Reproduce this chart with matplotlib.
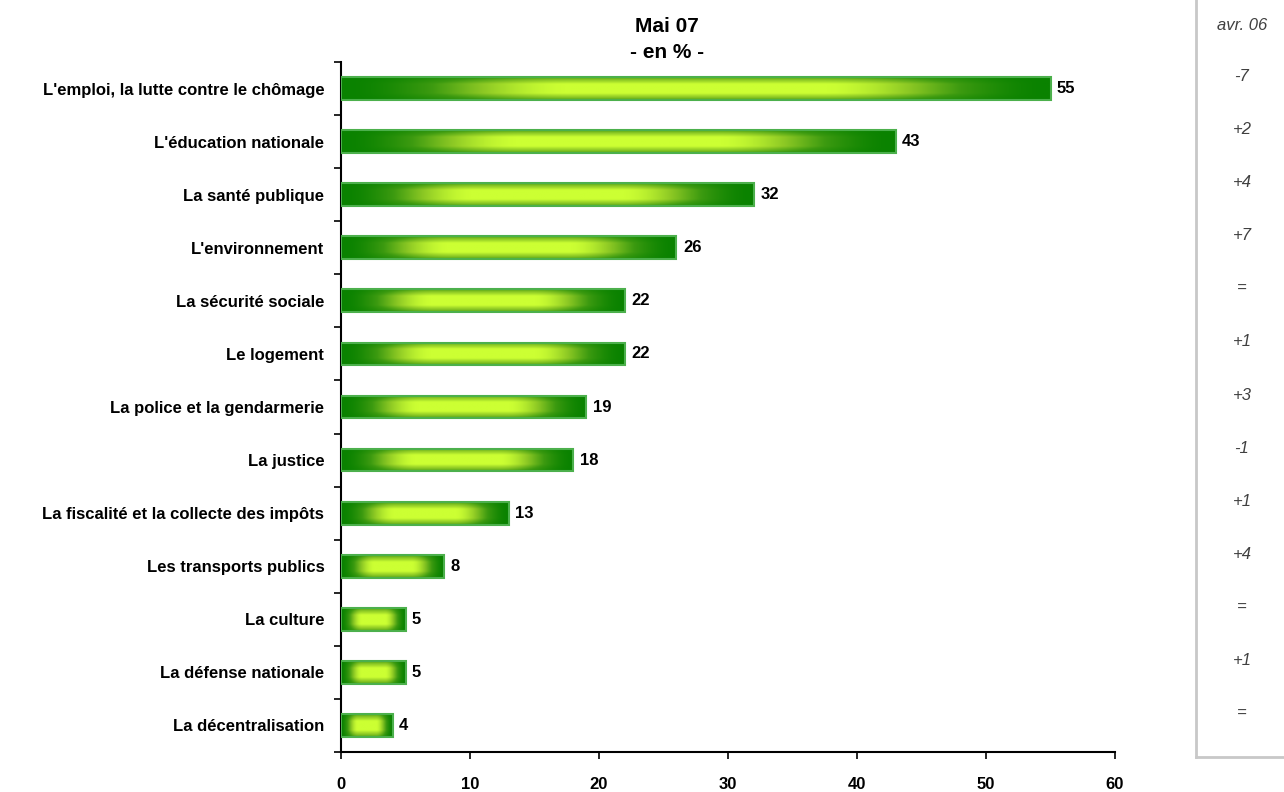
import numpy as np
import matplotlib.pyplot as plt
from matplotlib.colors import LinearSegmentedColormap
from matplotlib.patches import Rectangle

plt.rcParams['font.family'] = ['Liberation Sans', 'DejaVu Sans']

categories = ["L'emploi, la lutte contre le chômage", "L'éducation nationale",
              "La santé publique", "L'environnement", "La sécurité sociale",
              "Le logement", "La police et la gendarmerie", "La justice",
              "La fiscalité et la collecte des impôts", "Les transports publics",
              "La culture", "La défense nationale", "La décentralisation"]
values = [55, 43, 32, 26, 22, 22, 19, 18, 13, 8, 5, 5, 4]
evolution = ["-7", "+2", "+4", "+7", "=", "+1", "+3", "-1", "+1", "+4", "=", "+1", "="]
xticks = [0, 10, 20, 30, 40, 50, 60]

cmap = LinearSegmentedColormap.from_list("bar", ["#0a8200", "#3c9a10", "#8cc824", "#ccff33"])

fig = plt.figure(figsize=(12.84, 7.92), dpi=100)
ax = fig.add_axes([0.2656, 0.0505, 0.6028, 0.8712])

n = len(categories)
ys = np.arange(n)
bh = 0.43

# gradient image: bright in the centre, dark at the edges
u = np.linspace(0, 1, 300)
v = np.linspace(0, 1, 40)
U, V = np.meshgrid(u, v)
bx = np.clip((1 - np.abs(2 * U - 1)) / 0.65, 0, 1)
bx = bx * bx * (3 - 2 * bx)
by = np.clip((1 - np.abs(2 * V - 1)) / 0.6, 0, 1)
grad = bx * (0.45 + 0.55 * by)

for y, val in zip(ys, values):
    ax.imshow(grad, cmap=cmap, vmin=0, vmax=1, aspect='auto',
              extent=(0, val, y + bh / 2, y - bh / 2), zorder=2, interpolation='bilinear')
    ax.add_patch(Rectangle((0, y - bh / 2), val, bh, fill=False,
                           edgecolor="#4cb04c", linewidth=1.5, zorder=3))
    ax.text(val + 0.5, y, str(val), va='center', ha='left',
            fontsize=12, fontweight='bold', zorder=4)

ax.set_xlim(0, 60)
ax.set_ylim(n - 0.5, -0.5)
ax.set_xticks(xticks)
ax.set_xticklabels([str(t) for t in xticks], fontsize=12, fontweight='bold')
ax.set_yticks(np.arange(n + 1) - 0.5)
ax.set_yticklabels([])
ax.set_yticks(ys, minor=True)
ax.set_yticklabels(categories, minor=True, fontsize=12, fontweight='bold')
ax.tick_params(axis='y', which='minor', length=0, pad=12)
ax.tick_params(axis='y', which='major', length=5, direction='out', width=1.2)
ax.tick_params(axis='x', length=5, direction='out', width=1.2, pad=13)
for s in ['top', 'right']:
    ax.spines[s].set_visible(False)
ax.spines['left'].set_linewidth(1.5)
ax.spines['bottom'].set_linewidth(1.5)

fig.text(667 / 1284, 1 - 26 / 792, "Mai 07", ha='center', va='center',
         fontsize=15, fontweight='bold')
fig.text(667 / 1284, 1 - 52 / 792, "- en % -", ha='center', va='center',
         fontsize=15, fontweight='bold')

# right panel with evolution since avr. 06
fig.add_artist(plt.Line2D([1196 / 1284, 1196 / 1284], [1 - 757 / 792, 1.0],
                          color="#c8c8c8", linewidth=2, transform=fig.transFigure))
fig.add_artist(plt.Line2D([1196 / 1284, 1.0], [1 - 757 / 792, 1 - 757 / 792],
                          color="#c8c8c8", linewidth=2, transform=fig.transFigure))
fig.text(1242 / 1284, 1 - 25 / 792, "avr. 06", ha='center', va='center',
         fontsize=12, style='italic', color="#404040")
for y, e in zip(ys, evolution):
    ypix = ax.transData.transform((0, y))[1] + 12
    fig.text(1242 / 1284, ypix / 792, e, ha='center', va='center',
             fontsize=12, style='italic', color="#404040")

fig.savefig("out.png", dpi=100)
